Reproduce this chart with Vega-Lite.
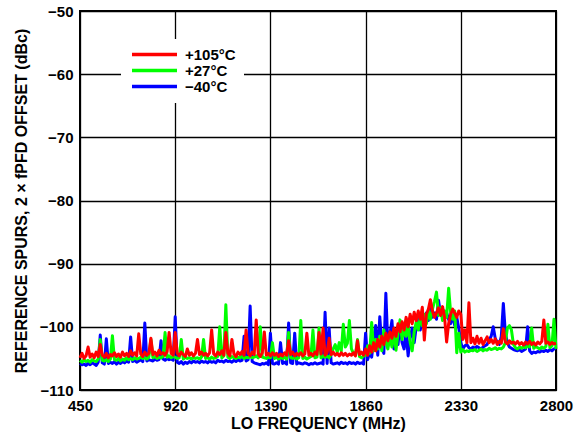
{
"$schema":"https://vega.github.io/schema/vega-lite/v6.json",
"width":476,"height":379,
"autosize":{"type":"none"},
"padding":{"left":80,"top":11,"right":20,"bottom":54},
"background":"white",
"config":{"view":{"stroke":"black","strokeWidth":2},"font":"Liberation Sans"},
"data":{"values":[
{"f":450,"r":-104.9,"g":-105.3,"b":-105.8},{"f":460,"r":-104.2,"g":-105.6,"b":-106.0},{"f":470,"r":-105.0,"g":-105.2,"b":-105.9},{"f":480,"r":-104.6,"g":-105.5,"b":-106.1},{"f":490,"r":-103.2,"g":-105.3,"b":-105.8},
{"f":500,"r":-104.8,"g":-105.6,"b":-106.0},{"f":510,"r":-104.3,"g":-105.2,"b":-105.7},{"f":520,"r":-104.9,"g":-105.4,"b":-105.9},{"f":530,"r":-104.0,"g":-105.5,"b":-106.1},{"f":540,"r":-104.7,"g":-105.1,"b":-105.6},
{"f":550,"r":-102.8,"g":-102.0,"b":-101.3},{"f":560,"r":-104.5,"g":-105.3,"b":-105.7},{"f":570,"r":-104.8,"g":-105.4,"b":-105.9},{"f":580,"r":-104.2,"g":-105.2,"b":-101.9},{"f":590,"r":-104.9,"g":-105.5,"b":-105.8},
{"f":600,"r":-104.4,"g":-105.1,"b":-105.6},{"f":610,"r":-104.6,"g":-101.4,"b":-105.8},{"f":620,"r":-104.1,"g":-105.2,"b":-105.5},{"f":630,"r":-104.7,"g":-105.3,"b":-105.9},{"f":640,"r":-104.3,"g":-105.0,"b":-105.6},
{"f":650,"r":-104.8,"g":-105.4,"b":-105.8},{"f":660,"r":-104.0,"g":-105.1,"b":-105.5},{"f":670,"r":-104.6,"g":-105.3,"b":-105.7},{"f":680,"r":-104.2,"g":-104.9,"b":-105.4},{"f":690,"r":-104.7,"g":-105.2,"b":-105.6},
{"f":700,"r":-103.8,"g":-105.0,"b":-101.6},{"f":710,"r":-104.5,"g":-105.2,"b":-105.5},{"f":720,"r":-104.1,"g":-104.9,"b":-105.3},{"f":730,"r":-104.6,"g":-105.1,"b":-105.6},{"f":740,"r":-101.1,"g":-105.0,"b":-105.4},
{"f":750,"r":-104.3,"g":-104.8,"b":-105.2},{"f":760,"r":-104.7,"g":-105.0,"b":-105.5},{"f":770,"r":-104.0,"g":-104.9,"b":-99.4},{"f":780,"r":-104.5,"g":-105.1,"b":-105.4},{"f":790,"r":-104.2,"g":-104.8,"b":-105.2},
{"f":800,"r":-101.8,"g":-102.0,"b":-105.3},{"f":810,"r":-104.4,"g":-104.9,"b":-105.4},{"f":820,"r":-104.0,"g":-104.7,"b":-105.1},{"f":830,"r":-104.6,"g":-105.0,"b":-105.3},{"f":840,"r":-103.7,"g":-104.8,"b":-105.2},
{"f":850,"r":-104.3,"g":-104.9,"b":-102.2},{"f":860,"r":-104.1,"g":-104.7,"b":-105.1},{"f":870,"r":-104.5,"g":-100.9,"b":-105.3},{"f":880,"r":-103.9,"g":-104.8,"b":-105.0},{"f":890,"r":-100.9,"g":-104.6,"b":-105.2},
{"f":900,"r":-104.2,"g":-104.9,"b":-105.1},{"f":910,"r":-104.5,"g":-104.7,"b":-105.3},{"f":920,"r":-100.9,"g":-104.8,"b":-98.4},{"f":930,"r":-104.2,"g":-105.0,"b":-105.6},{"f":940,"r":-104.6,"g":-104.9,"b":-105.8},
{"f":950,"r":-104.0,"g":-102.0,"b":-105.5},{"f":960,"r":-104.4,"g":-105.1,"b":-105.9},{"f":970,"r":-104.7,"g":-104.8,"b":-105.6},{"f":980,"r":-103.5,"g":-105.0,"b":-105.8},{"f":990,"r":-104.5,"g":-104.9,"b":-105.5},
{"f":1000,"r":-104.1,"g":-105.1,"b":-105.7},{"f":1010,"r":-104.6,"g":-104.8,"b":-105.4},{"f":1020,"r":-104.2,"g":-105.0,"b":-105.6},{"f":1030,"r":-102.0,"g":-104.9,"b":-105.5},{"f":1040,"r":-104.4,"g":-105.1,"b":-105.7},
{"f":1050,"r":-104.0,"g":-104.8,"b":-105.4},{"f":1060,"r":-104.5,"g":-102.0,"b":-105.6},{"f":1070,"r":-104.2,"g":-105.0,"b":-105.5},{"f":1080,"r":-104.6,"g":-104.9,"b":-105.7},{"f":1090,"r":-104.1,"g":-105.1,"b":-105.4},
{"f":1100,"r":-100.5,"g":-104.8,"b":-105.6},{"f":1110,"r":-104.3,"g":-105.0,"b":-105.5},{"f":1120,"r":-104.6,"g":-104.9,"b":-105.7},{"f":1130,"r":-104.0,"g":-104.7,"b":-105.3},{"f":1140,"r":-104.4,"g":-100.0,"b":-105.5},
{"f":1150,"r":-103.8,"g":-104.9,"b":-105.4},{"f":1160,"r":-104.5,"g":-104.6,"b":-105.6},{"f":1170,"r":-100.9,"g":-96.5,"b":-105.3},{"f":1180,"r":-104.2,"g":-104.8,"b":-105.5},{"f":1190,"r":-104.6,"g":-105.0,"b":-105.4},
{"f":1200,"r":-102.0,"g":-104.7,"b":-105.6},{"f":1210,"r":-104.3,"g":-104.9,"b":-105.3},{"f":1220,"r":-104.7,"g":-105.0,"b":-105.5},{"f":1230,"r":-104.0,"g":-104.8,"b":-105.2},{"f":1240,"r":-104.4,"g":-104.9,"b":-105.4},
{"f":1250,"r":-103.9,"g":-104.7,"b":-105.3},{"f":1260,"r":-104.5,"g":-105.0,"b":-101.5},{"f":1270,"r":-100.5,"g":-104.8,"b":-105.4},{"f":1280,"r":-104.2,"g":-104.9,"b":-105.2},{"f":1290,"r":-104.6,"g":-104.7,"b":-96.7},
{"f":1300,"r":-104.0,"g":-104.9,"b":-105.5},{"f":1310,"r":-104.4,"g":-104.8,"b":-105.7},{"f":1320,"r":-98.9,"g":-104.6,"b":-105.8},{"f":1330,"r":-104.3,"g":-104.9,"b":-105.9},{"f":1340,"r":-104.7,"g":-100.0,"b":-106.0},
{"f":1350,"r":-104.1,"g":-104.8,"b":-105.8},{"f":1360,"r":-100.8,"g":-104.9,"b":-105.9},{"f":1370,"r":-104.5,"g":-105.0,"b":-105.7},{"f":1380,"r":-104.2,"g":-104.8,"b":-106.0},{"f":1390,"r":-104.6,"g":-104.9,"b":-101.0},
{"f":1400,"r":-104.1,"g":-102.5,"b":-105.8},{"f":1410,"r":-104.5,"g":-105.0,"b":-105.9},{"f":1420,"r":-104.2,"g":-104.8,"b":-105.7},{"f":1430,"r":-104.7,"g":-105.1,"b":-105.9},{"f":1440,"r":-104.3,"g":-104.9,"b":-102.5},
{"f":1450,"r":-104.6,"g":-105.0,"b":-105.8},{"f":1460,"r":-104.1,"g":-104.8,"b":-105.6},{"f":1470,"r":-104.5,"g":-105.1,"b":-105.9},{"f":1480,"r":-102.2,"g":-100.9,"b":-99.4},{"f":1490,"r":-104.4,"g":-104.9,"b":-105.7},
{"f":1500,"r":-104.0,"g":-105.0,"b":-105.8},{"f":1510,"r":-104.6,"g":-104.8,"b":-101.0},{"f":1520,"r":-104.2,"g":-105.1,"b":-105.9},{"f":1530,"r":-104.5,"g":-104.9,"b":-105.7},{"f":1540,"r":-104.1,"g":-99.0,"b":-105.8},
{"f":1550,"r":-104.6,"g":-105.0,"b":-105.9},{"f":1560,"r":-104.3,"g":-104.8,"b":-105.7},{"f":1570,"r":-101.0,"g":-105.1,"b":-105.8},{"f":1580,"r":-104.5,"g":-104.9,"b":-106.0},{"f":1590,"r":-104.2,"g":-104.7,"b":-105.8},
{"f":1600,"r":-104.6,"g":-100.5,"b":-105.9},{"f":1610,"r":-104.0,"g":-104.9,"b":-105.7},{"f":1620,"r":-104.4,"g":-104.8,"b":-105.9},{"f":1630,"r":-100.9,"g":-100.2,"b":-105.8},{"f":1640,"r":-104.3,"g":-104.9,"b":-105.7},
{"f":1650,"r":-100.2,"g":-104.6,"b":-105.9},{"f":1660,"r":-104.5,"g":-104.8,"b":-97.7},{"f":1670,"r":-104.1,"g":-104.6,"b":-105.8},{"f":1680,"r":-101.8,"g":-104.9,"b":-100.2},{"f":1690,"r":-104.4,"g":-104.4,"b":-105.7},
{"f":1700,"r":-104.0,"g":-103.5,"b":-105.9},{"f":1710,"r":-104.5,"g":-102.8,"b":-105.8},{"f":1720,"r":-104.2,"g":-104.0,"b":-105.7},{"f":1730,"r":-104.6,"g":-102.5,"b":-105.9},{"f":1740,"r":-104.1,"g":-103.8,"b":-105.6},
{"f":1750,"r":-104.5,"g":-99.6,"b":-105.8},{"f":1760,"r":-104.2,"g":-103.2,"b":-105.7},{"f":1770,"r":-104.6,"g":-102.6,"b":-105.9},{"f":1780,"r":-104.3,"g":-99.0,"b":-105.6},{"f":1790,"r":-104.5,"g":-103.5,"b":-105.8},
{"f":1800,"r":-104.1,"g":-104.2,"b":-105.7},{"f":1810,"r":-104.6,"g":-104.5,"b":-105.9},{"f":1820,"r":-102.2,"g":-102.0,"b":-105.6},{"f":1830,"r":-104.4,"g":-104.7,"b":-105.8},{"f":1840,"r":-104.0,"g":-104.9,"b":-105.7},
{"f":1850,"r":-104.5,"g":-104.6,"b":-105.9},{"f":1860,"r":-103.5,"g":-104.5,"b":-101.0},{"f":1870,"r":-104.5,"g":-103.0,"b":-105.2},{"f":1880,"r":-103.0,"g":-104.2,"b":-104.0},{"f":1890,"r":-104.0,"g":-99.3,"b":-104.8},
{"f":1900,"r":-102.5,"g":-103.8,"b":-102.0},{"f":1910,"r":-103.8,"g":-102.0,"b":-99.8},{"f":1920,"r":-102.0,"g":-103.5,"b":-104.5},{"f":1930,"r":-103.2,"g":-101.5,"b":-98.4},{"f":1940,"r":-101.5,"g":-103.8,"b":-103.0},
{"f":1950,"r":-102.8,"g":-100.5,"b":-104.2},{"f":1960,"r":-101.0,"g":-102.5,"b":-94.7},{"f":1970,"r":-102.2,"g":-103.5,"b":-103.0},{"f":1980,"r":-100.8,"g":-101.5,"b":-101.2},{"f":1990,"r":-101.8,"g":-103.2,"b":-99.0},
{"f":2000,"r":-100.2,"g":-100.8,"b":-103.5},{"f":2010,"r":-101.5,"g":-103.7,"b":-101.5},{"f":2020,"r":-99.5,"g":-101.0,"b":-102.8},{"f":2030,"r":-100.8,"g":-98.9,"b":-99.5},{"f":2040,"r":-99.2,"g":-102.0,"b":-102.5},
{"f":2050,"r":-100.5,"g":-100.0,"b":-103.5},{"f":2060,"r":-98.5,"g":-101.5,"b":-101.0},{"f":2070,"r":-100.0,"g":-99.5,"b":-104.6},{"f":2080,"r":-98.0,"g":-102.5,"b":-101.8},{"f":2090,"r":-99.5,"g":-103.8,"b":-100.2},
{"f":2100,"r":-97.7,"g":-100.8,"b":-102.5},{"f":2110,"r":-99.0,"g":-99.2,"b":-100.0},{"f":2120,"r":-97.5,"g":-100.5,"b":-98.8},{"f":2130,"r":-98.8,"g":-98.5,"b":-100.5},{"f":2140,"r":-96.9,"g":-99.8,"b":-98.2},
{"f":2150,"r":-102.1,"g":-98.0,"b":-99.5},{"f":2160,"r":-98.0,"g":-99.5,"b":-97.8},{"f":2170,"r":-97.2,"g":-97.5,"b":-99.0},{"f":2180,"r":-95.7,"g":-98.8,"b":-96.5},{"f":2190,"r":-97.5,"g":-97.2,"b":-98.5},
{"f":2200,"r":-98.5,"g":-96.0,"b":-97.8},{"f":2210,"r":-97.8,"g":-94.5,"b":-98.8},{"f":2220,"r":-97.0,"g":-98.2,"b":-95.8},{"f":2230,"r":-98.2,"g":-97.0,"b":-98.0},{"f":2240,"r":-96.8,"g":-99.0,"b":-97.2},
{"f":2250,"r":-98.5,"g":-97.5,"b":-98.5},{"f":2260,"r":-102.4,"g":-98.5,"b":-97.8},{"f":2270,"r":-99.5,"g":-93.9,"b":-98.8},{"f":2280,"r":-98.0,"g":-97.8,"b":-99.5},{"f":2290,"r":-97.2,"g":-98.8,"b":-98.2},
{"f":2300,"r":-97.8,"g":-97.5,"b":-99.8},{"f":2310,"r":-98.5,"g":-104.1,"b":-98.5},{"f":2320,"r":-97.5,"g":-101.0,"b":-100.2},{"f":2330,"r":-98.0,"g":-104.0,"b":-102.5},{"f":2340,"r":-102.0,"g":-103.6,"b":-103.5},
{"f":2350,"r":-100.5,"g":-104.0,"b":-103.0},{"f":2360,"r":-102.5,"g":-103.8,"b":-102.8},{"f":2370,"r":-96.2,"g":-103.9,"b":-103.3},{"f":2380,"r":-102.5,"g":-103.7,"b":-103.5},{"f":2390,"r":-101.8,"g":-103.8,"b":-103.2},
{"f":2400,"r":-102.7,"g":-103.6,"b":-103.4},{"f":2410,"r":-101.5,"g":-103.9,"b":-103.1},{"f":2420,"r":-102.6,"g":-103.7,"b":-103.3},{"f":2430,"r":-101.8,"g":-103.5,"b":-103.5},{"f":2440,"r":-102.8,"g":-103.8,"b":-103.2},
{"f":2450,"r":-102.2,"g":-103.6,"b":-103.0},{"f":2460,"r":-101.6,"g":-103.7,"b":-102.8},{"f":2470,"r":-102.5,"g":-103.4,"b":-102.0},{"f":2480,"r":-102.0,"g":-103.6,"b":-101.5},{"f":2490,"r":-102.6,"g":-103.5,"b":-100.0},
{"f":2500,"r":-101.9,"g":-103.3,"b":-101.8},{"f":2510,"r":-102.8,"g":-103.6,"b":-102.5},{"f":2520,"r":-102.3,"g":-103.4,"b":-102.8},{"f":2530,"r":-102.6,"g":-103.5,"b":-101.5},{"f":2540,"r":-100.3,"g":-103.2,"b":-96.3},
{"f":2550,"r":-102.4,"g":-102.5,"b":-101.0},{"f":2560,"r":-102.7,"g":-100.2,"b":-102.5},{"f":2570,"r":-102.2,"g":-99.8,"b":-103.2},{"f":2580,"r":-102.6,"g":-100.5,"b":-103.4},{"f":2590,"r":-102.4,"g":-102.8,"b":-103.6},
{"f":2600,"r":-102.7,"g":-103.3,"b":-103.7},{"f":2610,"r":-102.3,"g":-103.5,"b":-103.8},{"f":2620,"r":-102.8,"g":-103.2,"b":-103.6},{"f":2630,"r":-102.5,"g":-103.4,"b":-103.9},{"f":2640,"r":-102.9,"g":-103.1,"b":-103.7},
{"f":2650,"r":-102.4,"g":-103.3,"b":-103.5},{"f":2660,"r":-102.7,"g":-103.0,"b":-100.0},{"f":2670,"r":-102.3,"g":-103.2,"b":-103.8},{"f":2680,"r":-102.8,"g":-100.2,"b":-104.2},{"f":2690,"r":-102.5,"g":-103.4,"b":-104.0},
{"f":2700,"r":-102.9,"g":-103.1,"b":-104.1},{"f":2710,"r":-102.4,"g":-103.3,"b":-103.9},{"f":2720,"r":-102.7,"g":-103.5,"b":-104.0},{"f":2730,"r":-102.3,"g":-103.2,"b":-103.8},{"f":2740,"r":-98.9,"g":-103.4,"b":-103.9},
{"f":2750,"r":-102.6,"g":-103.1,"b":-103.7},{"f":2760,"r":-102.4,"g":-99.6,"b":-103.9},{"f":2770,"r":-102.8,"g":-103.3,"b":-103.6},{"f":2780,"r":-102.5,"g":-103.0,"b":-103.8},{"f":2790,"r":-102.7,"g":-98.8,"b":-103.5},
{"f":2800,"r":-102.6,"g":-103.5,"b":-103.4}
]},
"transform":[{"fold":["r","g","b"],"as":["k","v"]}],
"encoding":{
 "x":{"field":"f","type":"quantitative","scale":{"domain":[450,2800],"nice":false,"zero":false},
  "axis":{"values":[450,920,1390,1860,2330,2800],"title":"LO FREQUENCY (MHz)","format":"d","ticks":false,"domain":false,"grid":true,"gridColor":"black","gridOpacity":1,"gridWidth":1.3,
   "labelFont":"Liberation Sans","labelFontSize":15,"labelFontWeight":"bold","labelColor":"black","labelPadding":8,"labelFlush":false,
   "titleFont":"Liberation Sans","titleFontSize":16,"titleFontWeight":"bold","titleColor":"black","titlePadding":2}},
 "y":{"field":"v","type":"quantitative","scale":{"domain":[-110,-50],"nice":false,"zero":false},
  "axis":{"values":[-110,-100,-90,-80,-70,-60,-50],"title":"REFERENCE SPURS, 2 × fPFD OFFSET (dBc)","ticks":false,"domain":false,"grid":true,"gridColor":"black","gridOpacity":1,"gridWidth":1.3,
   "labelFont":"Liberation Sans","labelFontSize":15,"labelFontWeight":"bold","labelColor":"black","labelPadding":7,"labelFlush":false,
   "titleFont":"Liberation Sans","titleFontSize":16,"titleFontWeight":"bold","titleColor":"black","titlePadding":10}},
 "color":{"field":"k","type":"nominal","scale":{"domain":["r","g","b"],"range":["#ff0000","#00ff00","#0000ff"]},
  "legend":{"orient":"none","legendX":41,"legendY":28,"title":null,"fillColor":"white","padding":8,"symbolType":"M-1,0H9","symbolSize":81,"symbolStrokeWidth":3.5,
   "labelFont":"Liberation Sans","labelFontSize":15,"labelFontWeight":"bold","labelColor":"black","rowPadding":-2.5,"labelOffset":41,
   "labelExpr":"datum.value == 'r' ? '+105°C' : datum.value == 'g' ? '+27°C' : '−40°C'"}}
},
"layer":[
 {"transform":[{"filter":"datum.k == 'b'"}],"mark":{"type":"line","strokeWidth":3,"strokeJoin":"round"}},
 {"transform":[{"filter":"datum.k == 'g'"}],"mark":{"type":"line","strokeWidth":3,"strokeJoin":"round"}},
 {"transform":[{"filter":"datum.k == 'r'"}],"mark":{"type":"line","strokeWidth":3,"strokeJoin":"round"}}
]
}
